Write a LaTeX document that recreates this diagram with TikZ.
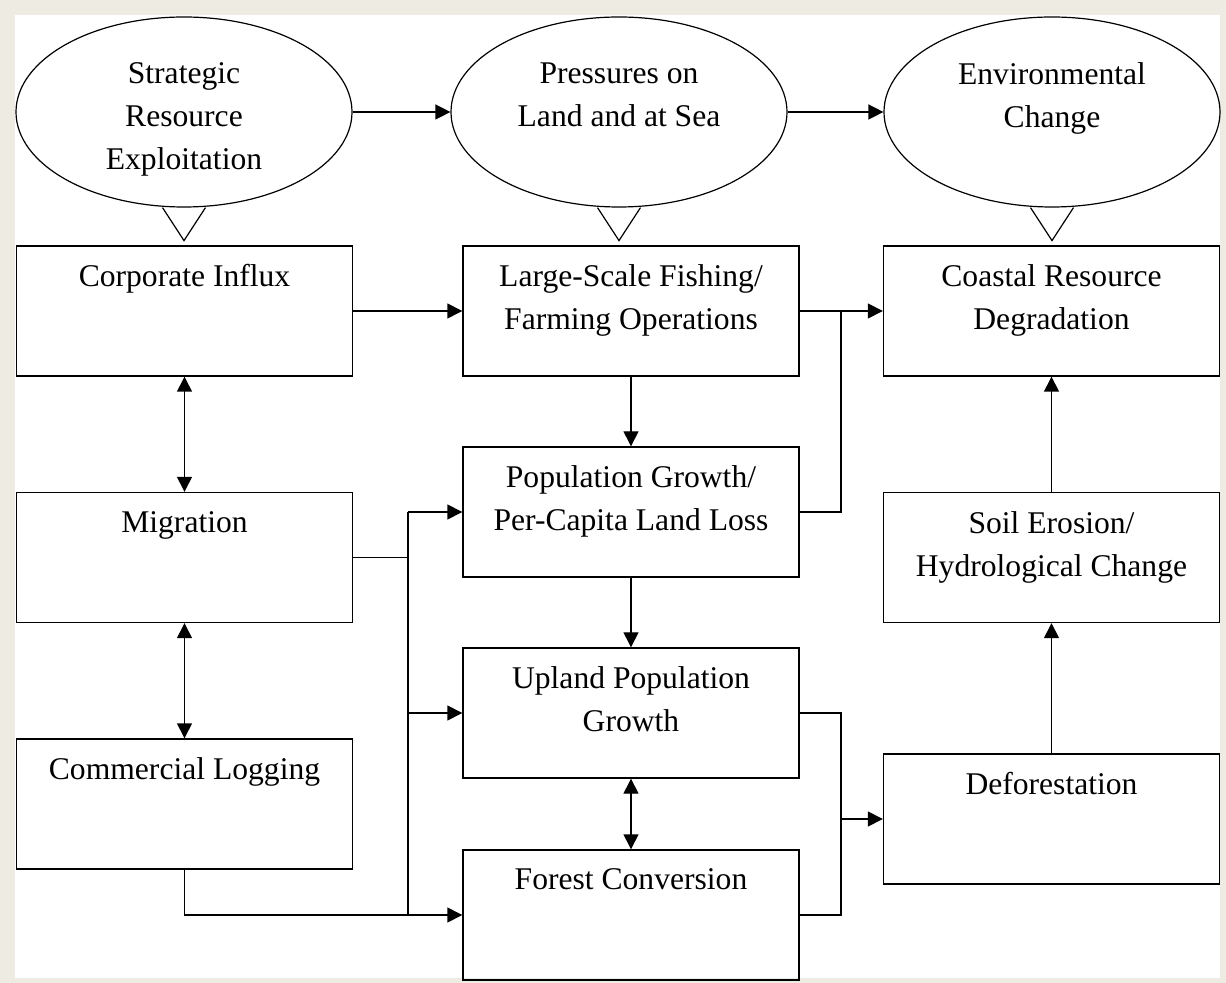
\documentclass[tikz,border=0pt]{standalone}
\usepackage{fontspec}
\setmainfont{Liberation Serif}
\usepackage{tikz}
\usetikzlibrary{shapes.geometric, arrows.meta, positioning}

\definecolor{framebeige}{RGB}{237,235,226}

\tikzset{
	boxtext/.style = {anchor=north, align=center, inner sep=0pt, yshift=-9.5pt, font=\fontsize{15.8}{21.5}\selectfont},
	ovaltext/.style = {anchor=north, align=center, inner sep=0pt, yshift=-23pt, font=\fontsize{15.8}{21.5}\selectfont},
	box/.style = {draw, line width=0.7pt, minimum width=168pt, minimum height=65pt, inner sep=0pt, label={[boxtext]north:{#1}}},
	oval/.style = {ellipse, draw, line width=0.6pt, minimum width=168pt, minimum height=95pt, inner sep=0pt, label={[ovaltext]north:{#1}}},
	arr/.style = {line width=0.7pt, -{Triangle[length=7.5pt, width=7.5pt]}},
	darr/.style = {line width=0.7pt, {Triangle[length=7.5pt, width=7.5pt]}-{Triangle[length=7.5pt, width=7.5pt]}},
	wire/.style = {line width=0.7pt}
}

\begin{document}
\begin{tikzpicture}[x=0.5pt, y=-0.5pt]
			\useasboundingbox (0,0) rectangle (1226,983);
			\fill[framebeige] (0,0) rectangle (1226,983);
			\fill[white] (15,15) rectangle (1220,978);

			\coordinate (busL) at (408,0);
			\coordinate (busR) at (841,0);

			\begin{scope}
				\node[oval={Strategic\\Resource\\Exploitation}] (strat) at (184,112) {};
				\node[oval={Pressures on\\Land and at Sea}] (press) at (619,112) {};
				\node[oval={Environmental\\Change}] (env) at (1052,112) {};

				\foreach \e in {strat, press, env}
					\draw[line width=0.6pt] (\e.south) ++(-21.5,0) -- ++(21.5,33) -- ++(21.5,-33);
			\end{scope}

			\begin{scope}
				\node[box={Corporate Influx}] (corp) at (184.5,311) {};
				\node[box={Migration}] (mig) at (184.5,557.5) {};
				\node[box={Commercial Logging}] (log) at (184.5,804) {};

				\node[box={Large-Scale Fishing/\\Farming Operations}] (large) at (631,311) {};
				\node[box={Population Growth/\\Per-Capita Land Loss}] (pop) at (631,512) {};
				\node[box={Upland Population\\Growth}] (upl) at (631,713) {};
				\node[box={Forest Conversion}] (forest) at (631,915) {};

				\node[box={Coastal Resource\\Degradation}] (coast) at (1051.5,311) {};
				\node[box={Soil Erosion/\\Hydrological Change}] (soil) at (1051.5,557.5) {};
				\node[box={Deforestation}] (defor) at (1051.5,819) {};
			\end{scope}

			\begin{scope}[arr]
				\draw (strat.east) -- (press.west);
				\draw (press.east) -- (env.west);

				\draw (corp.east) -- (large.west);
				\draw (large.east) -- (coast.west);
				\draw (large.south) -- (pop.north);
				\draw (pop.south) -- (upl.north);

				\draw (pop.west -| busL) -- (pop.west);
				\draw (upl.west -| busL) -- (upl.west);
				\draw (log.south) |- (forest.west);

				\draw (busR |- defor.west) -- (defor.west);
				\draw (defor.north) -- (soil.south);
				\draw (soil.north) -- (coast.south);
			\end{scope}

			\begin{scope}[darr]
				\draw (corp.south) -- (mig.north);
				\draw (mig.south) -- (log.north);
				\draw (upl.south) -- (forest.north);
			\end{scope}

			\begin{scope}[wire]
				\draw (mig.east) -- (mig.east -| busL);
				\draw (pop.west -| busL) -- (forest.west -| busL);
				\draw (pop.east) -| (busR |- coast.west);
				\draw (upl.east) -| (busR |- forest.east) -- (forest.east);
			\end{scope}
		\end{tikzpicture}
\end{document}
